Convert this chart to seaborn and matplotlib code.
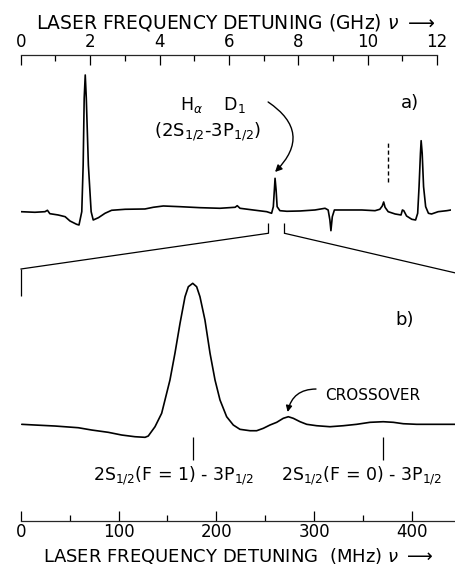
import matplotlib
matplotlib.use('Agg')
import matplotlib.pyplot as plt
from matplotlib.patches import ConnectionPatch
from matplotlib.ticker import MultipleLocator
import seaborn as sns

# panel a: wide scan (detuning in GHz, signal in arbitrary units)
scan_ghz = [0.0, 0.41, 0.70, 0.77, 0.84, 1.08, 1.28, 1.42, 1.61, 1.68,
            1.76, 1.80, 1.83, 1.86, 1.89, 1.95, 2.03, 2.09, 2.24, 2.43,
            2.62, 3.01, 3.58, 3.82, 4.11, 4.59, 5.17, 5.74, 6.18, 6.24,
            6.32, 6.70, 7.09, 7.23, 7.28, 7.31, 7.33, 7.36, 7.39, 7.47,
            7.67, 8.05, 8.48, 8.77, 8.86, 8.91, 8.94, 8.98, 9.04, 9.15,
            9.44, 9.83, 10.21, 10.35, 10.42, 10.46, 10.50, 10.59, 10.79, 10.96,
            11.00, 11.04, 11.12, 11.27, 11.38, 11.44, 11.48, 11.52, 11.54, 11.57,
            11.61, 11.67, 11.75, 11.84, 12.03, 12.28, 12.40]
scan_signal = [0.33, 0.27, 0.33, 0.47, 0.13, 0.0, -0.17, -0.6, -0.93, -1.0,
               0.33, 5.0, 11.7, 14.0, 11.7, 5.0, 0.33, -0.5, -0.27, 0.17,
               0.47, 0.57, 0.6, 0.77, 0.9, 0.83, 0.73, 0.67, 0.77, 0.93,
               0.67, 0.5, 0.33, 0.17, 0.83, 2.5, 3.67, 2.5, 0.83, 0.43,
               0.37, 0.4, 0.5, 0.67, 0.5, -0.5, -1.57, -0.17, 0.5, 0.5,
               0.5, 0.5, 0.43, 0.57, 0.9, 1.3, 0.77, 0.33, 0.1, 0.0,
               0.5, 0.43, -0.1, -0.43, -0.5, 0.17, 2.83, 6.17, 7.43, 6.17,
               2.83, 0.83, 0.17, 0.1, 0.33, 0.43, 0.5]

# panel b: H-alpha D1 line (detuning in MHz, signal in arbitrary units)
zoom_mhz = [1, 14.5, 35.0, 58.8, 72.5, 89.5, 103.2, 116.8, 127.1, 130.4,
            137.3, 144.1, 147.5, 152.6, 157.7, 162.9, 168.0, 171.4, 175.9, 179.9,
            183.3, 188.4, 193.6, 198.7, 203.8, 210.6, 217.4, 224.2, 234.5, 241.3,
            248.1, 254.9, 261.8, 268.5, 273.7, 278.8, 285.7, 292.5, 302.7, 316.3,
            329.9, 343.6, 357.2, 370.8, 381.1, 391.3, 405.0, 418.6, 439.1, 444.2]
zoom_signal = [1.57, 1.5, 1.4, 1.23, 1.0, 0.77, 0.5, 0.33, 0.27, 0.4,
               1.33, 2.67, 4.0, 6.0, 8.67, 11.67, 14.33, 15.33, 15.67, 15.33,
               14.33, 12.0, 8.67, 6.0, 4.0, 2.33, 1.5, 1.07, 0.93, 0.93,
               1.17, 1.5, 1.77, 2.17, 2.33, 2.17, 1.83, 1.57, 1.43, 1.33,
               1.43, 1.57, 1.77, 1.83, 1.77, 1.63, 1.57, 1.57, 1.57, 1.57]

dashed_marker_ghz = [10.58]
line_markers_mhz = [175.9, 370.8]
line_labels = ['2S$_{1/2}$(F = 1) - 3P$_{1/2}$', '2S$_{1/2}$(F = 0) - 3P$_{1/2}$']
zoom_window_ghz = [7.135, 7.60]

sns.set_theme(style='white', rc={'text.color': 'black', 'axes.labelcolor': 'black',
                                 'xtick.color': 'black', 'ytick.color': 'black'})
plt.rcParams['font.family'] = ['DejaVu Sans']

fig = plt.figure(figsize=(4.56, 5.66), dpi=100)
ax_a = fig.add_axes([0.0454, 0.5760, 0.9436, 0.3274])
ax_b = fig.add_axes([0.0456, 0.0800, 0.9539, 0.4447])
for ax in (ax_a, ax_b):
    ax.set_facecolor('none')
    for s in ax.spines.values():
        s.set_visible(False)
    ax.set_yticks([])

# ---- panel a
sns.lineplot(x=scan_ghz, y=scan_signal, ax=ax_a, color='black', lw=1.2, estimator=None)
ax_a.set_xlim(0, 12.4)
ax_a.set_ylim(-2.5, 16.03)
ax_a.spines['top'].set_visible(True)
ax_a.spines['top'].set_bounds(0, 12)
ax_a.spines['top'].set_linewidth(0.9)
ax_a.xaxis.set_ticks_position('top')
ax_a.xaxis.set_label_position('top')
ax_a.set_xticks(range(0, 13, 2))
ax_a.xaxis.set_minor_locator(MultipleLocator(1))
ax_a.tick_params(axis='x', which='both', direction='in', width=0.9, pad=3, labelsize=12)
ax_a.tick_params(axis='x', which='major', length=7.2)
ax_a.tick_params(axis='x', which='minor', length=4.3)
ax_a.set_xlabel(r'LASER FREQUENCY DETUNING (GHz) $\nu$ $\longrightarrow$', fontsize=13.5, labelpad=3)

ax_a.vlines(dashed_marker_ghz, 3.33, 7.23, colors='black', linestyles=(0, (3, 2)), lw=1.0)
ax_a.text(11.22, 11.2, 'a)', fontsize=13, ha='center', va='center')
ax_a.text(5.54, 10.5, r'H$_\alpha$    D$_1$', fontsize=12.5, ha='center', va='baseline')
ax_a.text(5.40, 7.8, '(2S$_{1/2}$-3P$_{1/2}$)', fontsize=13, ha='center', va='baseline')
ax_a.annotate('', xy=(7.33, 4.3), xytext=(7.13, 11.3),
              arrowprops=dict(arrowstyle='-|>', color='black', lw=1.0,
                              connectionstyle='arc3,rad=-0.6', mutation_scale=10,
                              shrinkA=0, shrinkB=0))

# zoom bracket
ax_a.vlines(zoom_window_ghz, -1.83, -0.77, colors='black', lw=0.9)

# ---- panel b
sns.lineplot(x=zoom_mhz, y=zoom_signal, ax=ax_b, color='black', lw=1.2, estimator=None)
ax_b.set_xlim(0, 445)
ax_b.set_ylim(-8.07, 17.1)
ax_b.spines['bottom'].set_visible(True)
ax_b.spines['bottom'].set_bounds(0, 445)
ax_b.spines['bottom'].set_linewidth(0.9)
ax_b.set_xticks(range(0, 401, 100))
ax_b.xaxis.set_minor_locator(MultipleLocator(50))
ax_b.tick_params(axis='x', which='both', direction='in', width=0.9, pad=2, labelsize=12,
                 bottom=True)
ax_b.tick_params(axis='x', which='major', length=7.2)
ax_b.tick_params(axis='x', which='minor', length=4.3)
ax_b.set_xlabel(r'LASER FREQUENCY DETUNING  (MHz) $\nu$ $\longrightarrow$', fontsize=13, labelpad=3.5)

ax_b.vlines(line_markers_mhz, -2.0, 0.33, colors='black', lw=0.9)
for xm, lab in zip(line_markers_mhz, line_labels):
    ax_b.text(xm - 20 if xm < 300 else xm - 22, -4.0, lab, fontsize=12.5, ha='center', va='baseline')
ax_b.text(393, 12.0, 'b)', fontsize=13, ha='center', va='center')
ax_b.text(311.5, 4.5, 'CROSSOVER', fontsize=11, ha='left', va='center')
ax_b.annotate('', xy=(273, 2.8), xytext=(302, 5.1),
              arrowprops=dict(arrowstyle='-|>', color='black', lw=1.0,
                              connectionstyle='arc3,rad=0.4', mutation_scale=9,
                              shrinkA=0, shrinkB=0))

ax_b.vlines([0], 14.4, 17.1, colors='black', lw=0.9, clip_on=False)
ax_b.vlines([445], 14.4, 16.7, colors='black', lw=0.9, clip_on=False)
for xa, xb, yb in ((zoom_window_ghz[0], 0, 17.1), (zoom_window_ghz[1], 445, 16.7)):
    con = ConnectionPatch(xyA=(xa, -1.83), coordsA=ax_a.transData,
                          xyB=(xb, yb), coordsB=ax_b.transData,
                          color='black', lw=0.9)
    fig.add_artist(con)

fig.savefig('out.png', dpi=100)
